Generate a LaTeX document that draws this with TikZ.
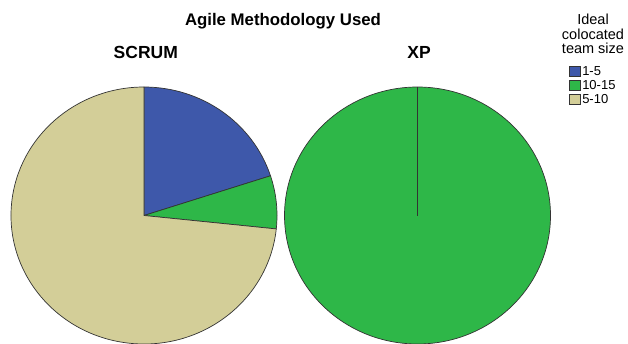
\documentclass[tikz,border=0pt]{standalone}
\usepackage{fontspec}
\setmainfont{Liberation Sans}

\definecolor{sliceblue}{RGB}{62,88,170}
\definecolor{slicegreen}{RGB}{46,183,72}
\definecolor{slicetan}{RGB}{211,206,152}

\begin{document}
\begin{tikzpicture}[
    x = 1pt, y = 1pt,
    slice/.style = {
        draw = black!80,
        line width = 0.7pt,
        line join = round
    },
    keybox/.style = {
        draw = black!80,
        rectangle,
        minimum width = 11.5pt,
        minimum height = 10pt,
        inner sep = 0pt,
        line width = 0.6pt
    },
    chartlabel/.style = {
        anchor = base,
        inner sep = 0pt,
        font = \fontsize{17.5}{20}\selectfont\bfseries
    }
]

\useasboundingbox (0,0) rectangle (628,343);

% Title
\node[anchor = base, inner sep = 0pt, font = \fontsize{16.8}{20}\selectfont\bfseries] (title) at (283, 317.5) {Agile Methodology Used};

% Pie labels
\node[chartlabel] (scrum) at (145.8, 284.3) {SCRUM};
\node[chartlabel] (xp) at (419, 284.3) {XP};

% Pie centres
\coordinate (scrumc) at (144, 127.5);
\coordinate (xpc) at (417.5, 127.5);

% SCRUM pie (3 / 1 / 11 of 15)
\foreach \a / \b / \c in {90/18/sliceblue, 18/-6/slicegreen, -6/-270/slicetan} {
    \filldraw[slice, fill = \c] (scrumc) -- ++(\a:133pt and 128.5pt)
        arc[start angle = \a, end angle = \b, x radius = 133pt, y radius = 128.5pt] -- cycle;
}

% XP pie (all 10-15)
\filldraw[slice, fill = slicegreen] (xpc) ellipse [x radius = 133pt, y radius = 128.5pt];
\draw[slice] (xpc) -- ++(0, 128.5);

% Legend
\node[anchor = north, align = center, inner sep = 0pt, font = \fontsize{14.5}{14.8}\selectfont] (legtitle) at (593, 329.5) {Ideal\\colocated\\team size};
\foreach \i / \c / \label in {1/sliceblue/1-5, 2/slicegreen/10-15, 3/slicetan/5-10} {
    \node[keybox, fill = \c] (key\i) at (575, 286 - 14*\i) {};
    \node[anchor = west, inner sep = 0pt, font = \fontsize{13}{15}\selectfont] (keylabel\i) at ([xshift = 1pt]key\i.east) {\label};
}

\end{tikzpicture}
\end{document}
